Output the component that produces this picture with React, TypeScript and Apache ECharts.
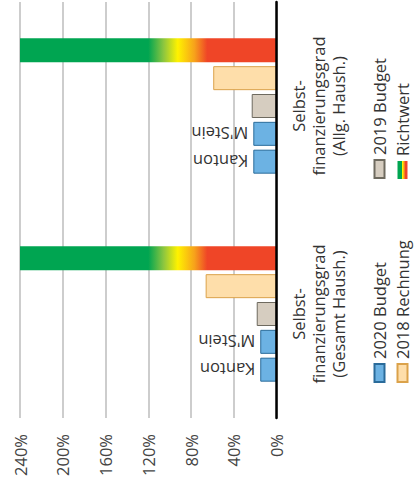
import React, { useEffect, useRef } from "react";
import * as echarts from "echarts";

const categories = [
  "Selbst-\nfinanzierungsgrad\n(Gesamt Haush.)",
  "Selbst-\nfinanzierungsgrad\n(Allg. Haush.)",
];
const budget2020Kanton = [15.2, 21.7];
const budget2020MStein = [15.2, 21.7];
const budget2019 = [18.5, 23.2];
const rechnung2018 = [66.3, 59.2];
const richtwert = [240, 240];
const barLabels = ["Kanton", "M'Stein"];
const valueMin = 0;
const valueMax = 240;
const valueStep = 40;

const FONT = "Open Sans";
const FS = 16.5;

const GREEN = "#00A551";
const YELLOW = "#FFF200";
const ORANGE = "#F7A21B";
const RED = "#EF4527";

function barGradient() {
  return new echarts.graphic.LinearGradient(0, 0, 0, 1, [
    { offset: 0, color: GREEN },
    { offset: 0.5, color: GREEN },
    { offset: 0.56, color: "#8DC63F" },
    { offset: 0.615, color: YELLOW },
    { offset: 0.68, color: ORANGE },
    { offset: 0.73, color: RED },
    { offset: 1, color: RED },
  ]);
}

function iconGradient() {
  return new echarts.graphic.LinearGradient(0, 0, 0, 1, [
    { offset: 0, color: GREEN },
    { offset: 0.4, color: GREEN },
    { offset: 0.5, color: YELLOW },
    { offset: 0.65, color: ORANGE },
    { offset: 0.8, color: RED },
    { offset: 1, color: RED },
  ]);
}

export default function App() {
  const ref = useRef<HTMLDivElement>(null);

  useEffect(() => {
    if (!ref.current) return;
    const chart = echarts.init(ref.current, undefined, { renderer: "svg" });

    const labelFor = (text: string) => ({
      show: true,
      position: "top",
      rotate: 90,
      align: "left",
      verticalAlign: "middle",
      distance: 5,
      formatter: text,
      color: "#333",
      fontSize: FS,
      fontFamily: FONT,
    });

    const legendBase = {
      orient: "horizontal",
      padding: 0,
      icon: "rect",
      itemWidth: 18,
      itemHeight: 10,
      itemGap: 0,
      textStyle: { color: "#333", fontSize: FS, fontFamily: FONT },
      selectedMode: false,
    };

    const option: any = {
      animation: false,
      backgroundColor: "#fff",
      textStyle: { fontFamily: FONT },
      grid: { left: 76, right: 2, top: 20, height: 256.5, containLabel: false },
      legend: [
        { ...legendBase, left: 111, top: 371, data: ["2020 Budget"] },
        { ...legendBase, left: 315, top: 371, data: ["2019 Budget"] },
        { ...legendBase, left: 111, top: 394, data: ["2018 Rechnung"] },
        {
          ...legendBase,
          left: 315,
          top: 394,
          data: [{ name: "Richtwert", itemStyle: { color: iconGradient(), borderWidth: 0 } }],
        },
      ],
      xAxis: {
        type: "category",
        data: categories,
        z: 10,
        axisTick: { show: false },
        axisLine: { lineStyle: { color: "#000", width: 2.5 } },
        axisLabel: {
          interval: 0,
          margin: 12,
          color: "#333",
          fontSize: FS,
          fontFamily: FONT,
          lineHeight: 20,
        },
      },
      yAxis: {
        type: "value",
        min: valueMin,
        max: valueMax,
        interval: valueStep,
        axisLine: { show: false },
        axisTick: { show: false },
        splitLine: { lineStyle: { color: "#BDBDBD", width: 1.5 } },
        axisLabel: {
          formatter: "{value}%",
          margin: 16,
          color: "#444",
          fontSize: FS,
          fontFamily: FONT,
        },
      },
      series: [
        {
          name: "2020 Budget",
          type: "bar",
          data: budget2020Kanton,
          barWidth: 24,
          barGap: "16%",
          itemStyle: { color: "#6CB2E3", borderColor: "#2A6B9A", borderWidth: 1 },
          label: labelFor(barLabels[0]),
        },
        {
          name: "2020 Budget",
          type: "bar",
          data: budget2020MStein,
          barWidth: 24,
          barGap: "16%",
          itemStyle: { color: "#6CB2E3", borderColor: "#2A6B9A", borderWidth: 1 },
          label: labelFor(barLabels[1]),
        },
        {
          name: "2019 Budget",
          type: "bar",
          data: budget2019,
          barWidth: 24,
          barGap: "16%",
          itemStyle: { color: "#D6CDC0", borderColor: "#6E6A5F", borderWidth: 1 },
        },
        {
          name: "2018 Rechnung",
          type: "bar",
          data: rechnung2018,
          barWidth: 24,
          barGap: "16%",
          itemStyle: { color: "#FEDEAA", borderColor: "#DBA24A", borderWidth: 1 },
        },
        {
          name: "Richtwert",
          type: "bar",
          data: richtwert,
          barWidth: 24,
          barGap: "16%",
          itemStyle: { color: barGradient(), borderWidth: 0 },
        },
      ],
    };

    chart.setOption(option);
    return () => chart.dispose();
  }, []);

  return (
    <div
      style={{
        position: "fixed",
        left: 0,
        top: 0,
        width: 415,
        height: 494,
        overflow: "hidden",
        background: "#fff",
      }}
    >
      <div
        ref={ref}
        style={{
          position: "absolute",
          left: 0,
          top: 0,
          width: 494,
          height: 415,
          transformOrigin: "0 0",
          transform: "translate(0px, 494px) rotate(-90deg)",
        }}
      />
    </div>
  );
}
